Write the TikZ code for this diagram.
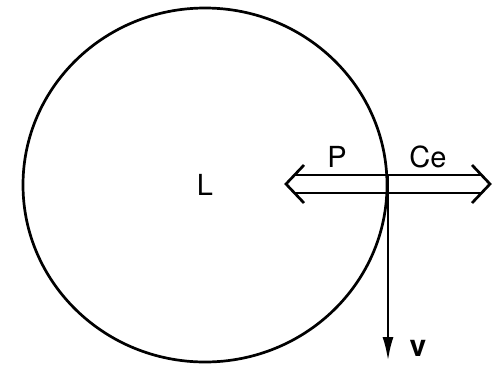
\documentclass[tikz,border=0pt]{standalone}
\usepackage{fontspec}
\setsansfont{TeX Gyre Heros}
\usetikzlibrary{positioning,arrows.meta,calc}
\tikzset{
  fig/.style={font=\sffamily\fontsize{29}{32}\selectfont},
  ln/.style={line width=2.7pt},
  dbl/.style={ln,double=white,double distance=15.3pt,shorten <=8pt,shorten >=8pt},
  barb/.style={ln,line join=miter},
  vec/.style={ln,-{Latex[length=24pt,width=11pt]}},
  lbl/.style={inner sep=1pt},
}
\begin{document}
\begin{tikzpicture}[fig,x=1pt,y=-1pt]
\useasboundingbox (0,0) rectangle (492,365);

\coordinate (ctr) at (205,185);
\coordinate (pl) at (286,184);
\coordinate (pr) at (490,184);
\coordinate (top) at (388,175);
\coordinate (bot) at (388,361);

% double arrow P / Ce
\draw[dbl] (pl) -- (pr);
\draw[barb] ($(pl)+(18,-19)$) -- (pl) -- ($(pl)+(18,19)$);
\draw[barb] ($(pr)+(-18,-19)$) -- (pr) -- ($(pr)+(-18,19)$);

\draw[ln] (ctr) ellipse [x radius=182pt,y radius=177pt];
\draw[vec] (top) -- (bot);

\node[lbl] (lp) at (337,157) {P};
\node[lbl] (lce) at (428,157) {Ce};
\node[lbl] (ll) at (ctr) {L};
\node[lbl,font=\sffamily\bfseries\fontsize{30}{32}\selectfont] (lv) at (418,348) {v};

\end{tikzpicture}
\end{document}
